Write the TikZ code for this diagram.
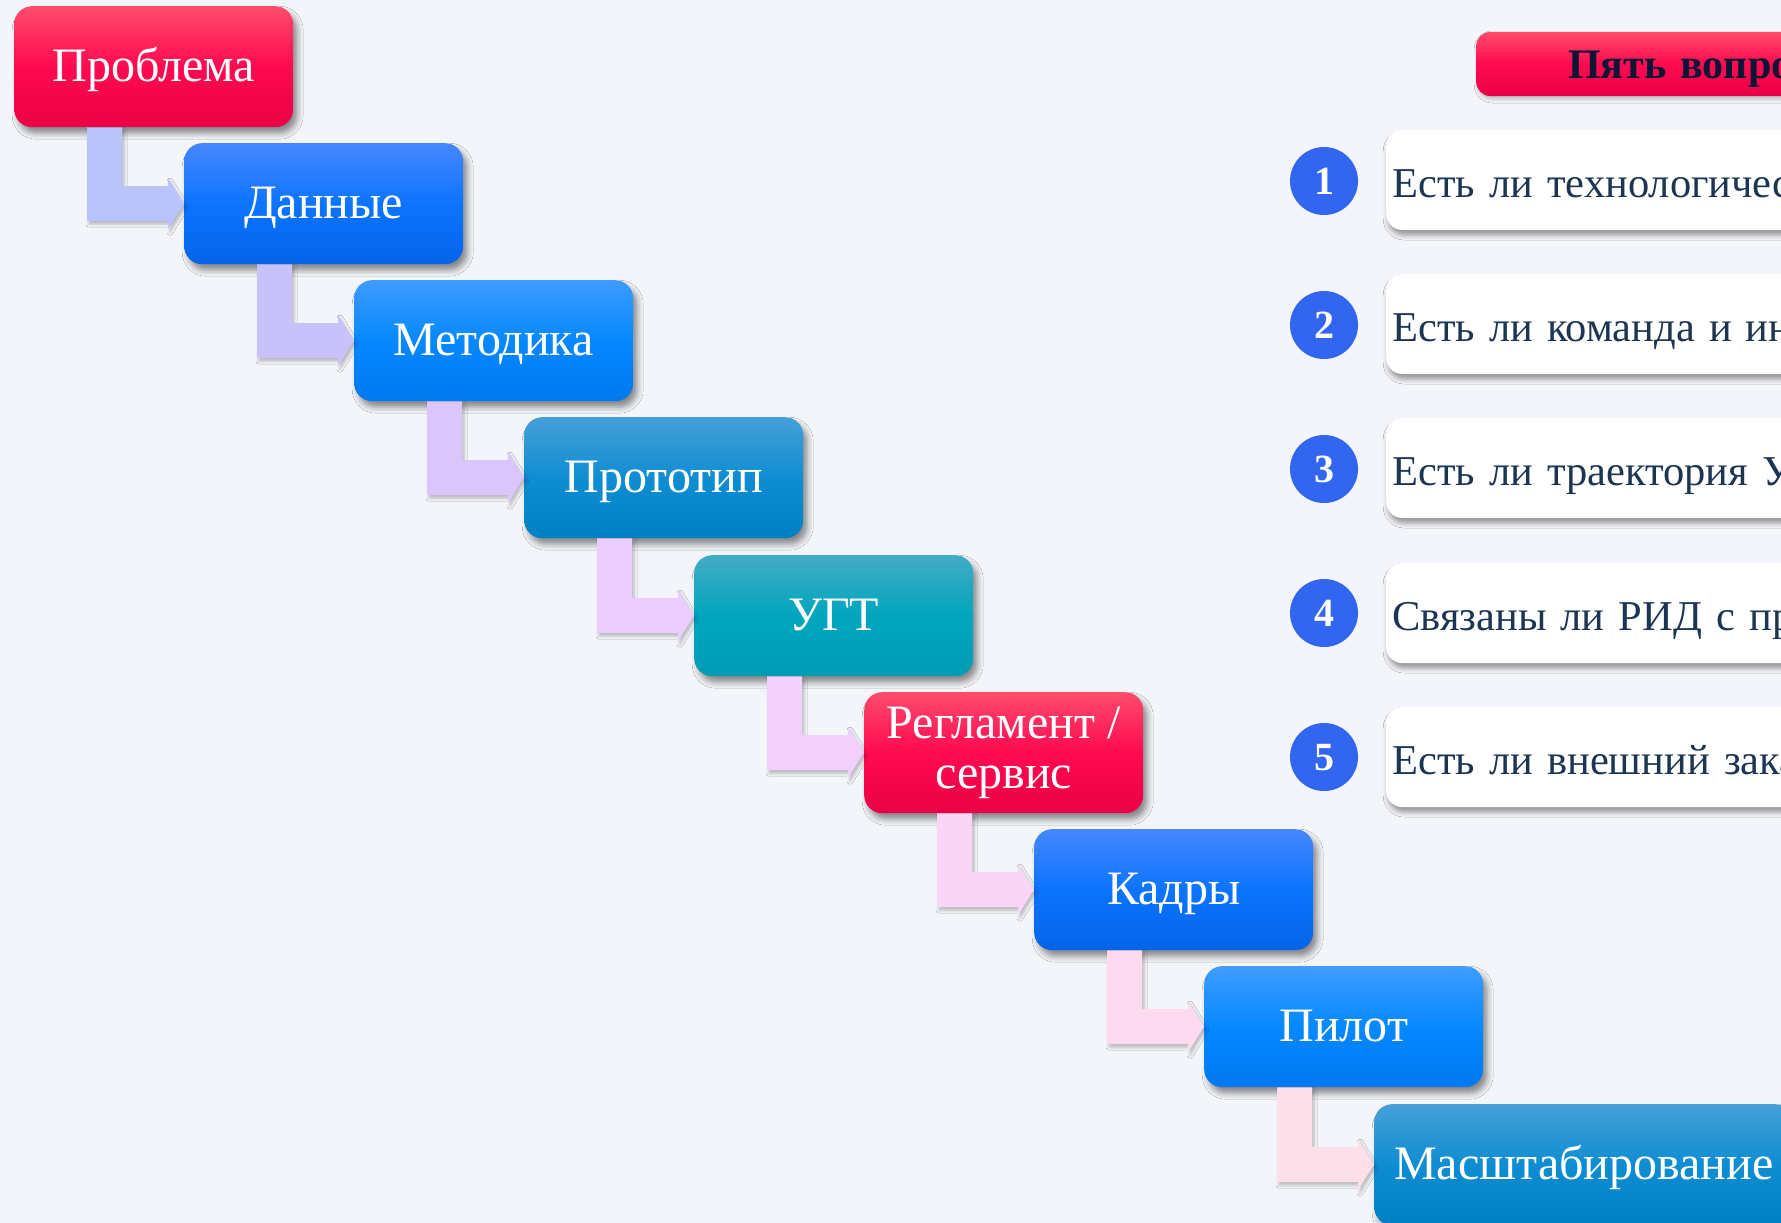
\documentclass[tikz,border=0pt]{standalone}
\usepackage{fontspec}
\setmainfont{Liberation Serif}
\newfontfamily\qfont{Liberation Serif}[WordSpace=0.9]
\usetikzlibrary{calc,shadows.blur}
\definecolor{bgc}{HTML}{F4F5FA}
\definecolor{rTop}{RGB}{255,75,108}
\definecolor{rMid}{RGB}{255,10,80}
\definecolor{rBot}{RGB}{234,0,70}
\definecolor{bTop}{RGB}{70,135,255}
\definecolor{bMid}{RGB}{12,116,255}
\definecolor{bBot}{RGB}{5,100,232}
\definecolor{zTop}{RGB}{62,156,255}
\definecolor{zMid}{RGB}{6,136,255}
\definecolor{zBot}{RGB}{0,120,240}
\definecolor{cTop}{RGB}{70,160,215}
\definecolor{cMid}{RGB}{15,141,210}
\definecolor{cBot}{RGB}{0,128,196}
\definecolor{tTop}{RGB}{66,172,196}
\definecolor{tMid}{RGB}{0,166,190}
\definecolor{tBot}{RGB}{0,155,180}
\definecolor{arA}{RGB}{187,196,250}
\definecolor{arB}{RGB}{201,193,250}
\definecolor{arC}{RGB}{218,198,250}
\definecolor{arD}{RGB}{234,205,252}
\definecolor{arE}{RGB}{242,208,252}
\definecolor{arF}{RGB}{251,213,246}
\definecolor{arG}{RGB}{252,218,240}
\definecolor{arH}{RGB}{253,223,233}
\definecolor{qtext}{RGB}{27,53,82}
\definecolor{hdrtext}{RGB}{12,21,53}
\definecolor{numfill}{RGB}{50,101,240}
\newcommand\elbowarrow[3]{%
  \path ($(#1.south west)+(90.5,0)$) coordinate (s)
        (#2.west) coordinate (t);
  \coordinate (c) at (s|-t);
  \fill[#3, arrshadow]
    ($(s)+(-17.5,0)$) -- ($(s)+(17.5,0)$) -- ($(c)+(17.5,-17.5)$)
    -- ($(t)+(-16,-17.5)$) -- ($(t)+(-16,-25.5)$) -- (t)
    -- ($(t)+(-16,25.5)$) -- ($(t)+(-16,17.5)$) -- ($(c)+(-17.5,17.5)$) -- cycle;
}
\begin{document}
\begin{tikzpicture}[x=1pt,y=-1pt,
  bx/.style={rounded corners=18pt, minimum width=279pt, minimum height=121pt,
    anchor=north west, text=white, font=\fontsize{48}{50}\selectfont,
    text height=35pt, text depth=5pt, inner xsep=20pt,
    blur shadow={shadow xshift=4pt,shadow yshift=-6pt,shadow blur radius=6pt,shadow opacity=45}},
  redg/.style={top color=rTop, bottom color=rBot, middle color=rMid},
  blueg/.style={top color=bTop, bottom color=bBot, middle color=bMid},
  azg/.style={top color=zTop, bottom color=zBot, middle color=zMid},
  ceg/.style={top color=cTop, bottom color=cBot, middle color=cMid},
  tealg/.style={top color=tTop, bottom color=tBot, middle color=tMid},
  arrshadow/.style={blur shadow={shadow xshift=2pt,shadow yshift=-3pt,shadow blur radius=3pt,shadow opacity=25}},
  card/.style={anchor=west, fill=white, rounded corners=16pt, minimum height=100pt,
    text width=900pt, align=left, inner xsep=6pt, text=qtext,
    font=\qfont\fontsize{42.5}{48}\selectfont, text height=40pt, text depth=6pt,
    blur shadow={shadow xshift=2pt,shadow yshift=-5pt,shadow blur radius=5pt,shadow opacity=40}},
  numc/.style={circle, fill=numfill, minimum size=68pt, inner sep=0pt, text=white,
    font=\fontsize{40}{40}\selectfont\bfseries, text height=27pt, text depth=0pt},
  hdr/.style={anchor=west, redg, rounded corners=14pt, minimum height=64pt,
    text width=500pt, align=left, inner xsep=92pt, text=hdrtext,
    font=\fontsize{42}{42}\selectfont\bfseries, text height=32pt, text depth=2pt,
    blur shadow={shadow xshift=2pt,shadow yshift=-3pt,shadow blur radius=4pt,shadow opacity=25}}
]
\useasboundingbox (0,0) rectangle (1781,1223);
\fill[bgc] (0,0) rectangle (1781,1223);

% process chain
\node[bx, redg]  (p1) at (14,6)    {Проблема};
\node[bx, blueg] (p2) at (184,143) {Данные};
\node[bx, azg]   (p3) at (354,280) {Методика};
\node[bx, ceg]   (p4) at (524,417) {Прототип};
\node[bx, tealg] (p5) at (694,555) {УГТ};
\node[bx, redg, align=center, text height=, text depth=] (p6) at (864,692) {Регламент /\\сервис};
\node[bx, blueg] (p7) at (1034,829) {Кадры};
\node[bx, azg]   (p8) at (1204,966) {Пилот};
\node[bx, ceg]   (p9) at (1374,1104) {Масштабирование};

\elbowarrow{p1}{p2}{arA}
\elbowarrow{p2}{p3}{arB}
\elbowarrow{p3}{p4}{arC}
\elbowarrow{p4}{p5}{arD}
\elbowarrow{p5}{p6}{arE}
\elbowarrow{p6}{p7}{arF}
\elbowarrow{p7}{p8}{arG}
\elbowarrow{p8}{p9}{arH}

% questions panel
\node[hdr] (hd) at (1476,64) {Пять вопросов};

\node[card] (q1) at (1386,180) {Есть ли технологический};
\node[card] (q2) at (1386,324) {Есть ли команда и инфраструктура};
\node[card] (q3) at (1386,468) {Есть ли траектория УГТ};
\node[card] (q4) at (1386,613) {Связаны ли РИД с продуктом};
\node[card] (q5) at (1386,757) {Есть ли внешний заказчик};

\node[numc] (c1) at (1324,181) {1};
\node[numc] (c2) at (1324,325) {2};
\node[numc] (c3) at (1324,469) {3};
\node[numc] (c4) at (1324,613) {4};
\node[numc] (c5) at (1324,757) {5};
\end{tikzpicture}
\end{document}
